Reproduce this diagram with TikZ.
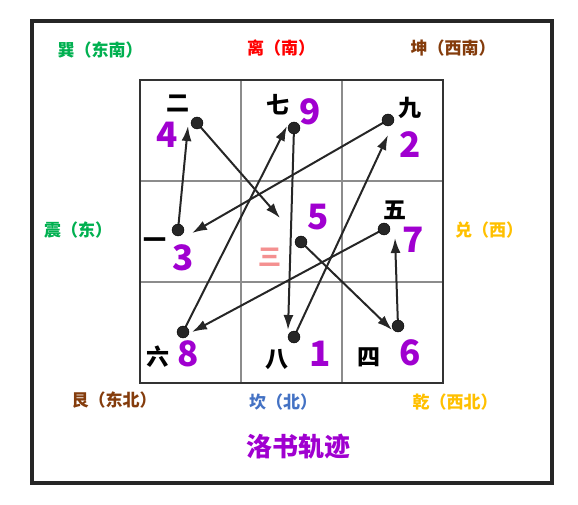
\documentclass[tikz,border=0pt]{standalone}
\usepackage{fontspec}
\setmainfont{Noto Sans CJK SC}
\usepackage{xcolor}
\usetikzlibrary{calc, arrows.meta}

\definecolor{xunGreen}{HTML}{00B050}
\definecolor{liRed}{HTML}{FF0000}
\definecolor{kunBrown}{HTML}{843C0C}
\definecolor{kanBlue}{HTML}{4472C4}
\definecolor{qianGold}{HTML}{FFC000}
\definecolor{luoPurple}{HTML}{A000D0}
\definecolor{sanPink}{HTML}{F49090}

\begin{document}
\begin{tikzpicture}[x=1pt, y=-1pt,
		dir/.style={inner sep=0pt, font=\fontsize{17}{17}\selectfont\bfseries},
		num/.style={inner sep=0pt, text=luoPurple, font=\fontsize{35}{35}\selectfont\bfseries},
		han/.style={inner sep=0pt, font=\fontsize{23}{23}\selectfont\bfseries},
		dot/.style={fill=black!85}]
					\def\gx{140};
					\def\gy{80};
					\def\c{101};
					
					\useasboundingbox (0,0) rectangle (578,505);
					
					\coordinate (n1) at (294,337);
					\coordinate (n2) at (388,120);
					\coordinate (n3) at (178,230);
					\coordinate (n4) at (197,123);
					\coordinate (n5) at (301,242);
					\coordinate (n6) at (398,326);
					\coordinate (n7) at (384,229);
					\coordinate (n8) at (183,332);
					\coordinate (n9) at (294,128);
					
					\coordinate (t2) at (388,135);
					\coordinate (t3) at (192,233);
					\coordinate (t4) at (188,126);
					\coordinate (t5) at (280,218);
					\coordinate (t6) at (392,330);
					\coordinate (t7) at (395,238);
					\coordinate (t8) at (192,332);
					\coordinate (t9) at (287,126);
					\coordinate (t1) at (288,330);
					
					\begin{scope}
						\draw [line width=3.5pt, black!85] (32,21) rectangle (552,483);
						\draw [line width=1.2pt, black!45] ({\gx+\c},\gy) -- ({\gx+\c},{\gy+3*\c});
						\draw [line width=1.2pt, black!45] ({\gx+2*\c},\gy) -- ({\gx+2*\c},{\gy+3*\c});
						\draw [line width=1.2pt, black!45] (\gx,{\gy+\c}) -- ({\gx+3*\c},{\gy+\c});
						\draw [line width=1.2pt, black!45] (\gx,{\gy+2*\c}) -- ({\gx+3*\c},{\gy+2*\c});
						\draw [line width=2.5pt, black!80] (\gx,\gy) rectangle ({\gx+3*\c},{\gy+3*\c});
					\end{scope}
					
					\begin{scope}[-{Latex[length=15pt, width=10pt]}, line width=2pt, black!85]
						\draw (n1) -- (t2);
						\draw (n2) -- (t3);
						\draw (n3) -- (t4);
						\draw (n4) -- (t5);
						\draw (n5) -- (t6);
						\draw (n6) -- (t7);
						\draw (n7) -- (t8);
						\draw (n8) -- (t9);
						\draw (n9) -- (t1);
					\end{scope}
					
					\begin{scope}
						\filldraw [dot] (n1) circle (6pt);
						\filldraw [dot] (n2) circle (6pt);
						\filldraw [dot] (n3) circle (6pt);
						\filldraw [dot] (n4) circle (6pt);
						\filldraw [dot] (n5) circle (6pt);
						\filldraw [dot] (n6) circle (6pt);
						\filldraw [dot] (n7) circle (6pt);
						\filldraw [dot] (n8) circle (6pt);
						\filldraw [dot] (n9) circle (6pt);
					\end{scope}
					
					\begin{scope}
						\node [num] (l4) at (167,135) {4};
						\node [num] (l9) at (310,112) {9};
						\node [num] (l2) at (410,145) {2};
						\node [num] (l3) at (183,258) {3};
						\node [num] (l5) at (318,217) {5};
						\node [num] (l7) at (413,240) {7};
						\node [num] (l8) at (188,354) {8};
						\node [num] (l1) at (320,354) {1};
						\node [num] (l6) at (410,353) {6};
						
						\node [han] (h2) at (178,103) {二};
						\node [han] (h7) at (278,105) {七};
						\node [han] (h9) at (410,108) {九};
						\node [han] (h1) at (155,243) {一};
						\node [han, text=sanPink] (h3) at (270,257) {三};
						\node [han] (h5) at (395,210) {五};
						\node [han] (h6) at (158,357) {六};
						\node [han] (h8) at (277,360) {八};
						\node [han] (h4) at (369,357) {四};
					\end{scope}
					
					\begin{scope}
						\node [dir, text=xunGreen] (xun) at (100,50) {巽（东南）};
						\node [dir, text=liRed] (li) at (281,48) {离（南）};
						\node [dir, text=kunBrown] (kun) at (453,48) {坤（西南）};
						\node [dir, text=xunGreen] (zhen) at (78,230) {震（东）};
						\node [dir, text=qianGold] (dui) at (489,230) {兑（西）};
						\node [dir, text=kunBrown] (gen) at (114,400) {艮（东北）};
						\node [dir, text=kanBlue] (kan) at (283,402) {坎（北）};
						\node [dir, text=qianGold] (qian) at (455,402) {乾（西北）};
						\node [inner sep=0pt, text=luoPurple, font=\fontsize{26}{26}\selectfont\bfseries] (title) at (298,447) {洛书轨迹};
					\end{scope}
				\end{tikzpicture}
\end{document}
